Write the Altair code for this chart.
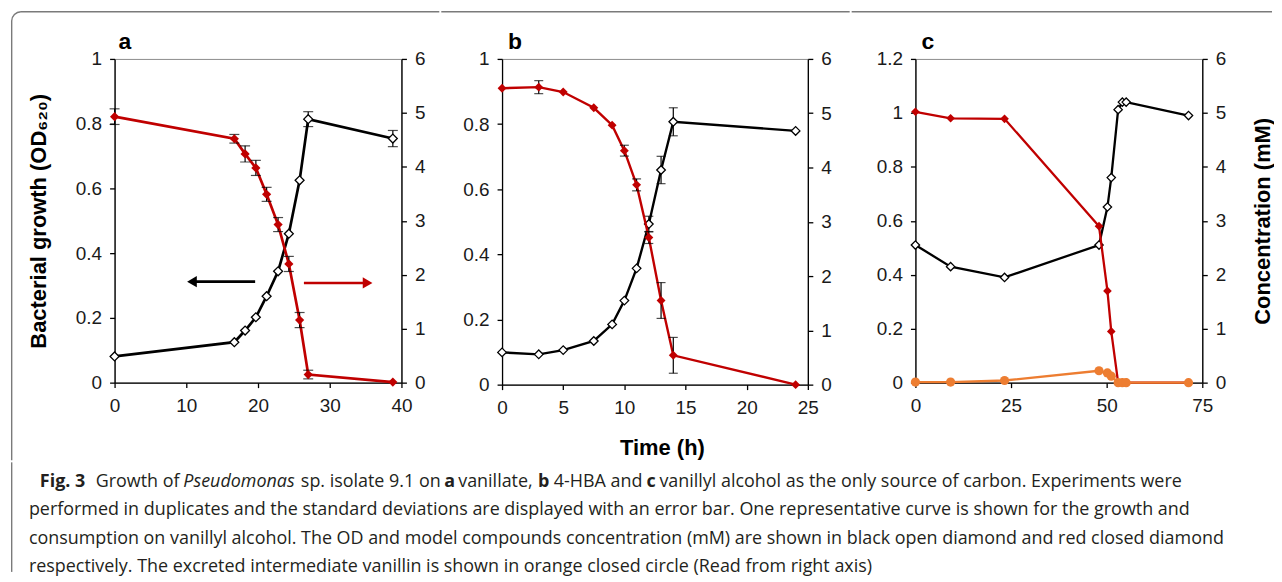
import math
import altair as alt
import pandas as pd

FONT = "Liberation Sans"
CAP_FONT = "Open Sans"
RED = "#C00000"
ORANGE = "#ED7D31"
FRAME = "#7a7a7a"
VIEW = "#8c8c8c"
CAP_COLOR = "#231f20"

# ---------------- data: panel a (vanillate) ----------------
a_time = [0, 16.7, 18.2, 19.7, 21.2, 22.8, 24.3, 25.8, 27.0, 38.8]
a_od = [0.081, 0.125, 0.161, 0.202, 0.267, 0.344, 0.460, 0.625, 0.814, 0.754]
a_od_err = [0, 0, 0, 0, 0, 0, 0, 0, 0.023, 0.025]
a_conc = [4.93, 4.52, 4.24, 3.98, 3.49, 2.93, 2.20, 1.16, 0.15, 0.01]
a_conc_err = [0.145, 0.08, 0.15, 0.14, 0.13, 0.13, 0.14, 0.14, 0.08, 0]
# annotation arrows (time units / OD units)
a_arrow_from = [19.6, 26.4]
a_arrow_to = [10.79, 35.28]
a_arrow_level = [0.312, 0.308]

# ---------------- data: panel b (4-HBA) ----------------
b_time = [0, 3, 5, 7.5, 9, 10, 11, 12, 13, 14, 24]
b_od = [0.099, 0.093, 0.106, 0.134, 0.185, 0.258, 0.357, 0.493, 0.659, 0.807, 0.779]
b_od_err = [0, 0, 0, 0, 0, 0, 0, 0.024, 0.042, 0.043, 0]
b_conc = [5.46, 5.48, 5.39, 5.10, 4.78, 4.31, 3.68, 2.71, 1.55, 0.54, 0.0]
b_conc_err = [0, 0.12, 0, 0, 0, 0.10, 0.11, 0.11, 0.33, 0.33, 0]

# ---------------- data: panel c (vanillyl alcohol) ----------------
c_time = [0, 9.2, 23.3, 48.0, 50.2, 51.2, 53.0, 54.1, 55.1, 71.4]
c_od = [0.51, 0.43, 0.39, 0.51, 0.651, 0.76, 1.012, 1.04, 1.04, 0.99]
c_conc = [5.02, 4.90, 4.89, 2.90, 1.70, 0.95, 0.0, 0.0, 0.0, 0.0]
c_vanillin = [0.01, 0.01, 0.04, 0.22, 0.18, 0.12, 0.0, 0.0, 0.0, 0.0]

conc_ticks = [0, 1, 2, 3, 4, 5, 6]

# ---------------- caption text ----------------
cap_normal = ["Growth of", "sp. isolate 9.1 on", "vanillate,", "4-HBA and",
              "vanillyl alcohol as the only source of carbon. Experiments were",
              "performed in duplicates and the standard deviations are displayed with an error bar. One representative curve is shown for the growth and",
              "consumption on vanillyl alcohol. The OD and model compounds concentration (mM) are shown in black open diamond and red closed diamond",
              "respectively. The excreted intermediate vanillin is shown in orange closed circle (Read from right axis)"]
cap_normal_x = [-19, 187, 345, 441, 547, -86, -86, -86]
cap_normal_y = [24.5, 24.5, 24.5, 24.5, 24.5, 53, 81.5, 110]
cap_bold = ["Fig. 3", "a", "b", "c"]
cap_bold_x = [-75, 331, 425, 534]
cap_bold_y = [24.5, 24.5, 24.5, 24.5]
cap_italic = ["Pseudomonas"]
cap_italic_x = [69]
cap_italic_y = [24.5]

ONE = pd.DataFrame({"k": [0]})


def xenc(field, dom, ticks, title=None, tx=0, ty=0):
    kw = dict(values=ticks, format="d")
    if title:
        kw.update(title=title, titleX=tx, titleY=ty, titleAngle=0,
                  titleAlign="center", titleBaseline="middle")
    else:
        kw["title"] = None
    return alt.X(f"{field}:Q", scale=alt.Scale(domain=dom, nice=False, zero=False),
                 axis=alt.Axis(**kw))


def yenc(field, dom, ticks, orient, title=None, tx=0, ty=0):
    kw = dict(values=ticks, format="~g", orient=orient)
    if title:
        kw.update(title=title, titleX=tx, titleY=ty, titleAngle=270,
                  titleAlign="center", titleBaseline="middle")
    else:
        kw["title"] = None
    return alt.Y(f"{field}:Q", scale=alt.Scale(domain=dom, nice=False, zero=False),
                 axis=alt.Axis(**kw))


def errbars(time, vals, errs, X, Y, cap):
    df = pd.DataFrame({"t": time, "v": vals, "e": errs})
    df = df[df.e > 0].copy()
    df["lo"] = df.v - df.e
    df["hi"] = df.v + df.e
    base = alt.Chart(df)
    return [
        base.mark_rule(color="black", strokeWidth=1.2).encode(x=X("t"), y=Y("lo"), y2="hi"),
        base.mark_tick(color="black", orient="horizontal", size=cap, thickness=1.2).encode(x=X("t"), y=Y("lo")),
        base.mark_tick(color="black", orient="horizontal", size=cap, thickness=1.2).encode(x=X("t"), y=Y("hi")),
    ]


def rect(x1, x2, y1, y2):
    return alt.Chart(ONE).mark_rect(color=FRAME).encode(
        x=alt.value(x1), x2=alt.value(x2), y=alt.value(y1), y2=alt.value(y2))


def make_panel(p):
    W, H = p["W"], p["H"]
    X = lambda f: xenc(f, p["xdom"], p["xticks"], p.get("xtitle"), p.get("xtx", 0), p.get("xty", 0))
    YL = lambda f: yenc(f, [0, p["odmax"]], p["odticks"], "left", p.get("ltitle"), -76, H / 2)
    YR = lambda f: yenc(f, [0, 6], conc_ticks, "right", p.get("rtitle"), 60, H / 2)

    od_df = pd.DataFrame({"t": p["time"], "v": p["od"]})
    left = [alt.Chart(od_df).mark_line(color="black", strokeWidth=p["lw"]).encode(x=X("t"), y=YL("v"))]
    if p.get("od_err"):
        left += errbars(p["time"], p["od"], p["od_err"], X, YL, p["cap"])
    left.append(alt.Chart(od_df).mark_point(shape="diamond", filled=True, fill="white", stroke="black",
                                            strokeWidth=1.3, size=p["size"], opacity=1)
                .encode(x=X("t"), y=YL("v")))
    if p.get("arrows"):
        arr = pd.DataFrame({"x1": a_arrow_from, "x2": a_arrow_to, "v": a_arrow_level})
        for i, (col, shape) in enumerate([("black", "triangle-left"), (RED, "triangle-right")]):
            d = arr.iloc[[i]]
            left.append(alt.Chart(d).mark_rule(color=col, strokeWidth=2.6)
                        .encode(x=X("x1"), x2="x2", y=YL("v")))
            left.append(alt.Chart(d).mark_point(shape=shape, filled=True, color=col, size=125, opacity=1)
                        .encode(x=X("x2"), y=YL("v")))
    # frame pieces and panel letter
    for r in p["frame"]:
        left.append(rect(*r))
    if p.get("corner"):
        cx, cy = p["corner"]
        left.append(alt.Chart(ONE).mark_arc(theta=1.5 * math.pi, theta2=2 * math.pi, radius=10,
                                            radius2=8.6, color=FRAME)
                    .encode(x=alt.value(cx), y=alt.value(cy)))
    left.append(alt.Chart(ONE).mark_text(text=p["letter"], font=FONT, fontSize=23, fontWeight="bold",
                                         align="left", baseline="alphabetic", color="black")
                .encode(x=alt.value(p["lx"]), y=alt.value(p["ly"])))

    conc_df = pd.DataFrame({"t": p["time"], "v": p["conc"]})
    right = [alt.Chart(conc_df).mark_line(color=RED, strokeWidth=p["lw"]).encode(x=X("t"), y=YR("v"))]
    if p.get("conc_err"):
        right += errbars(p["time"], p["conc"], p["conc_err"], X, YR, p["cap"])
    right.append(alt.Chart(conc_df).mark_point(shape="diamond", filled=True, color=RED, size=p["size"] + 5,
                                               opacity=1).encode(x=X("t"), y=YR("v")))
    if p.get("vanillin"):
        van_df = pd.DataFrame({"t": p["time"], "v": p["vanillin"]})
        right.append(alt.Chart(van_df).mark_line(color=ORANGE, strokeWidth=p["lw"]).encode(x=X("t"), y=YR("v")))
        right.append(alt.Chart(van_df).mark_circle(color=ORANGE, size=85, opacity=1).encode(x=X("t"), y=YR("v")))

    return alt.layer(alt.layer(*left), alt.layer(*right)).resolve_scale(y="independent").properties(
        width=W, height=H)


panel_a = make_panel(dict(
    W=288, H=325, time=a_time, od=a_od, od_err=a_od_err, conc=a_conc, conc_err=a_conc_err,
    xdom=[0, 40], xticks=[0, 10, 20, 30, 40], odmax=1, odticks=[0, 0.2, 0.4, 0.6, 0.8, 1],
    ltitle="Bacterial growth  (OD\u2086\u2082\u2080)", lw=2.7, size=80, cap=10, arrows=True,
    frame=[(-94, 326, -48, -46.6), (-104, -102.6, -38, 403)], corner=(-94, -38),
    letter="a", lx=4, ly=-10))

panel_b = make_panel(dict(
    W=307, H=327, time=b_time, od=b_od, od_err=b_od_err, conc=b_conc, conc_err=b_conc_err,
    xdom=[0, 25], xticks=[0, 5, 10, 15, 20, 25], odmax=1, odticks=[0, 0.2, 0.4, 0.6, 0.8, 1],
    xtitle="Time (h)", xtx=160.5, xty=63, lw=2.4, size=75, cap=9,
    frame=[(-61, 349, -48, -46.6)], letter="b", lx=6, ly=-10))

panel_c = make_panel(dict(
    W=288, H=325, time=c_time, od=c_od, conc=c_conc, vanillin=c_vanillin,
    xdom=[0, 75], xticks=[0, 25, 50, 75], odmax=1.2, odticks=[0, 0.2, 0.4, 0.6, 0.8, 1, 1.2],
    rtitle="Concentration (mM)", lw=2.3, size=70, cap=9,
    frame=[(-64, 358, -48, -46.6)], letter="c", lx=6, ly=-10))

row = alt.hconcat(panel_a, panel_b, panel_c, spacing=0)


def cap_layer(texts, xs, ys, weight, style):
    df = pd.DataFrame({"text": texts, "x": xs, "y": ys})
    return alt.Chart(df).mark_text(font=CAP_FONT, fontSize=18, fontWeight=weight, fontStyle=style,
                                   align="left", baseline="alphabetic", color=CAP_COLOR).encode(
        x=alt.X("x:Q", scale=None, axis=None), y=alt.Y("y:Q", scale=None, axis=None), text="text:N")


caption = alt.layer(
    rect(-104, -102.6, 0, 110),
    cap_layer(cap_normal, cap_normal_x, cap_normal_y, "normal", "normal"),
    cap_layer(cap_bold, cap_bold_x, cap_bold_y, "bold", "normal"),
    cap_layer(cap_italic, cap_italic_x, cap_italic_y, "normal", "italic"),
).properties(width=1150, height=110, view=alt.ViewBackground(stroke="transparent"))

chart = alt.vconcat(row, caption, spacing=0).properties(
    padding={"left": 2, "top": 1, "right": 0, "bottom": 0}
).configure(font=FONT).configure_view(stroke=VIEW, strokeWidth=1).configure_axis(
    labelFont=FONT, labelFontSize=19, labelColor="#1a1a1a", labelFlush=False, labelOverlap=False,
    domainColor="black", domainWidth=1.3, tickColor="black", tickWidth=1.3, tickSize=5,
    labelPadding=8, grid=False, titleFont=FONT, titleFontSize=22, titleFontWeight="bold",
    titleColor="black"
).configure_axisX(labelPadding=9)

chart.save("out.html", embed_options={"renderer": "svg", "actions": False})
